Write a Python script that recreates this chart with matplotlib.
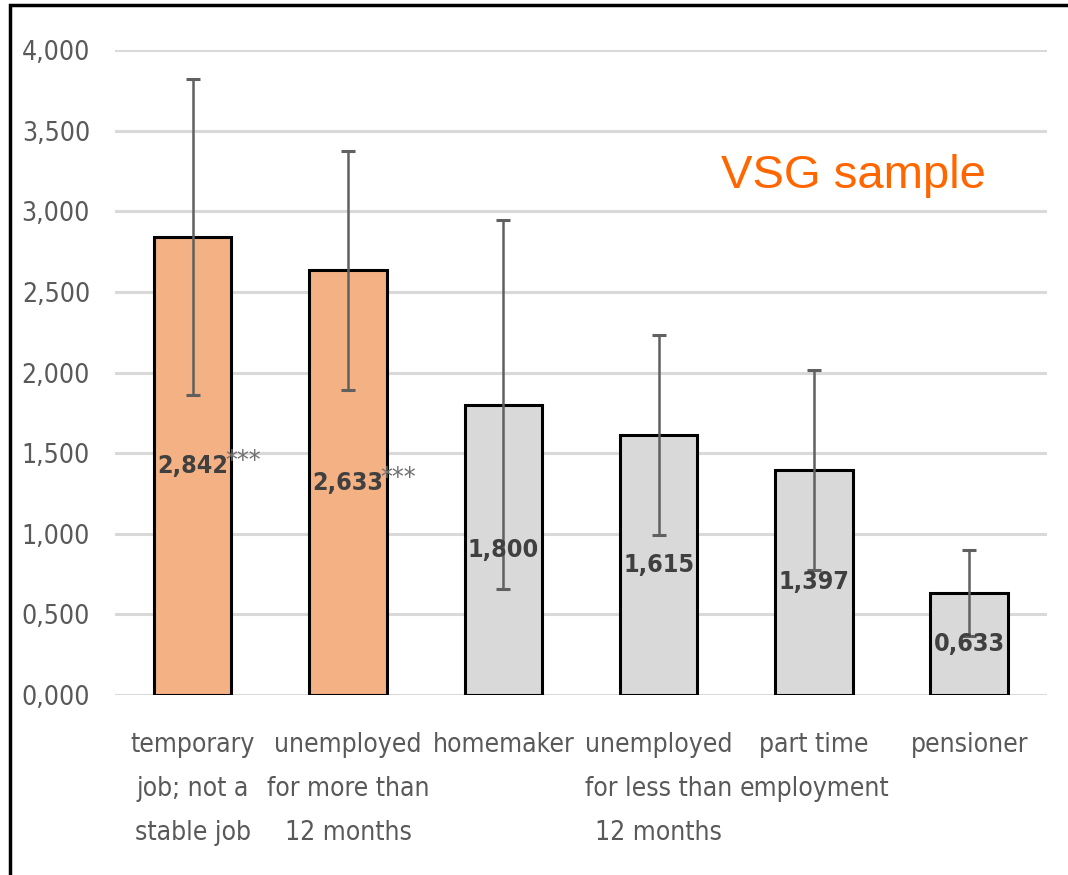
import matplotlib.pyplot as plt
from matplotlib.patches import Rectangle
from matplotlib.ticker import FuncFormatter

# ---------------------------------------------------
# DATA
# ---------------------------------------------------

categories = [
    "temporary\njob; not a\nstable job",
    "unemployed\nfor more than\n12 months",
    "homemaker",
    "unemployed\nfor less than\n12 months",
    "part time\nemployment",
    "pensioner",
]
values = [2.842, 2.633, 1.800, 1.615, 1.397, 0.633]
errors = [0.980, 0.740, 1.145, 0.620, 0.620, 0.268]
stars = ["***", "***", "", "", "", ""]
highlight = [True, True, False, False, False, False]

# ---------------------------------------------------
# STYLE
# ---------------------------------------------------

plt.rcParams['font.family'] = ['DejaVu Sans']
plt.rcParams['font.stretch'] = 'condensed'
ORANGE = "#f4b183"
GREY = "#d9d9d9"
TEXT = "#595959"

fig = plt.figure(figsize=(10.68, 8.75), dpi=100)
ax = fig.add_axes([115 / 1068, 180 / 875, 932 / 1068, 645 / 875])

x = list(range(len(values)))
colors = [ORANGE if h else GREY for h in highlight]

ax.bar(x, values, width=0.5, color=colors, edgecolor="black", linewidth=2.2, zorder=2)
ax.errorbar(x, values, yerr=errors, fmt="none", ecolor="#606060",
            elinewidth=1.8, capsize=5, capthick=2.2, zorder=3)

# value labels in the middle of each bar
for xi, v, s in zip(x, values, stars):
    label = f"{v:.3f}".replace(".", ",")
    ax.text(xi, v / 2, label, ha="center", va="center", fontsize=18,
            fontweight="bold", color="#404040", zorder=4)
    if s:
        ax.text(xi + 0.21, v / 2 + 0.025, s, ha="left", va="center", fontsize=19,
                color="#707070", zorder=4)

# ---------------------------------------------------
# AXES
# ---------------------------------------------------

ax.set_xlim(-0.5, len(values) - 0.5)
ax.set_ylim(0, 4.0)
ax.set_yticks([i * 0.5 for i in range(9)])
ax.yaxis.set_major_formatter(FuncFormatter(lambda v, p: f"{v:.3f}".replace(".", ",")))
ax.set_xticks(x)
ax.set_xticklabels(categories, linespacing=1.9)
ax.tick_params(axis="y", length=0, pad=18, labelsize=19, labelcolor=TEXT)
ax.tick_params(axis="x", length=0, pad=27, labelsize=19, labelcolor=TEXT)

for sp in ax.spines.values():
    sp.set_visible(False)
ax.grid(axis="y", color=GREY, linewidth=2.2)
ax.set_axisbelow(True)

ax.text(0.934, 0.805, "VSG sample", transform=ax.transAxes, ha="right",
        va="center", fontsize=34, color="#ff6600", family="Liberation Sans",
        stretch="normal")

# frame around the figure
fig.patches.append(Rectangle((10 / 1068, -0.05), 1.2, (875 - 5) / 875 + 0.05,
                             transform=fig.transFigure, fill=False,
                             edgecolor="black", linewidth=2.5))

fig.savefig("out.png", dpi=100)
